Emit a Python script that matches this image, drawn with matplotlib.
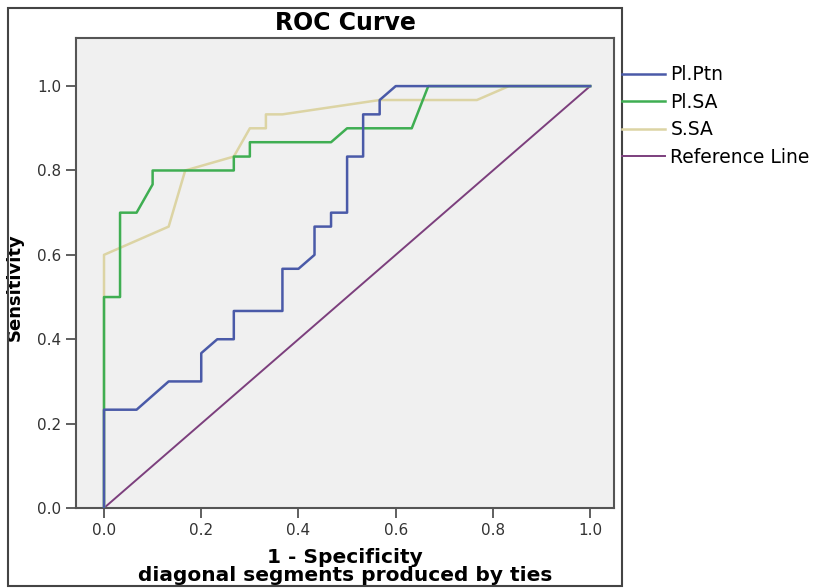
import matplotlib
matplotlib.use("Agg")
import matplotlib.pyplot as plt
from matplotlib.patches import Rectangle

# ROC curve points (1 - specificity, sensitivity)
ptn_fpr = [0, 0, 0.067, 0.133, 0.2, 0.2, 0.233, 0.267, 0.267, 0.367, 0.367, 0.4,
           0.433, 0.433, 0.467, 0.467, 0.5, 0.5, 0.533, 0.533, 0.567, 0.567, 0.6, 1.0]
ptn_tpr = [0, 0.233, 0.233, 0.3, 0.3, 0.367, 0.4, 0.4, 0.467, 0.467, 0.567, 0.567,
           0.6, 0.667, 0.667, 0.7, 0.7, 0.833, 0.833, 0.933, 0.933, 0.967, 1.0, 1.0]

plsa_fpr = [0, 0, 0.033, 0.033, 0.067, 0.1, 0.1, 0.267, 0.267, 0.3, 0.3, 0.467,
            0.5, 0.633, 0.667, 1.0]
plsa_tpr = [0, 0.5, 0.5, 0.7, 0.7, 0.767, 0.8, 0.8, 0.833, 0.833, 0.867, 0.867,
            0.9, 0.9, 1.0, 1.0]

ssa_fpr = [0, 0, 0.133, 0.167, 0.267, 0.3, 0.333, 0.333, 0.367, 0.567, 0.767, 0.833, 1.0]
ssa_tpr = [0, 0.6, 0.667, 0.8, 0.833, 0.9, 0.9, 0.933, 0.933, 0.967, 0.967, 1.0, 1.0]

ref_x = [0, 1]
ref_y = [0, 1]

series_names = ["Pl.Ptn", "Pl.SA", "S.SA", "Reference Line"]
tick_values = [0.0, 0.2, 0.4, 0.6, 0.8, 1.0]

W, H = 825, 588
fig = plt.figure(figsize=(W / 100, H / 100), dpi=100)
fig.patch.set_facecolor("white")

# chart frame like the SPSS output box
fig.patches.append(Rectangle((8 / W, 2 / H), 614 / W, 578 / H, transform=fig.transFigure,
                             fill=False, edgecolor="#444444", linewidth=1.5))

ax = fig.add_axes([76 / W, 80 / H, 538 / W, 470 / H])
ax.set_facecolor("#f0f0f0")

l1, = ax.plot(ptn_fpr, ptn_tpr, color="#4a5aa8", linewidth=1.8, zorder=4)
l3, = ax.plot(ssa_fpr, ssa_tpr, color="#dcd4a4", linewidth=1.8, zorder=2)
l2, = ax.plot(plsa_fpr, plsa_tpr, color="#3fae52", linewidth=1.8, zorder=3)
l4, = ax.plot(ref_x, ref_y, color="#7c3f7d", linewidth=1.4, zorder=1)

ax.set_xlim(-0.0576, 1.049)
ax.set_ylim(0, 1.114)
ax.set_xticks(tick_values)
ax.set_yticks(tick_values)
ax.set_xticklabels([f"{v:.1f}" for v in tick_values], fontsize=11, color="#333333")
ax.set_yticklabels([f"{v:.1f}" for v in tick_values], fontsize=11, color="#333333")
ax.tick_params(axis="both", direction="out", length=7, width=1.2, color="#444444")

for s in ax.spines.values():
    s.set_color("#555555")
    s.set_linewidth(1.5)

ax.set_title("ROC Curve", fontsize=17, fontweight="bold", pad=6)
ax.set_ylabel("Sensitivity", fontsize=13, fontweight="bold")
ax.yaxis.set_label_coords(-0.097, 0.47)
ax.set_xlabel("1 - Specificity\ndiagonal segments produced by ties", fontsize=14.5,
              fontweight="bold", linespacing=0.95)
ax.xaxis.set_label_coords(0.5, -0.085)

fig.legend([l1, l2, l3, l4], series_names, loc="upper left",
           bbox_to_anchor=(614 / W, 1 - 58 / H), frameon=False, fontsize=13.5,
           handlelength=2.3, handletextpad=0.3, labelspacing=0.45, borderaxespad=0)

fig.savefig("out.png", dpi=100)
